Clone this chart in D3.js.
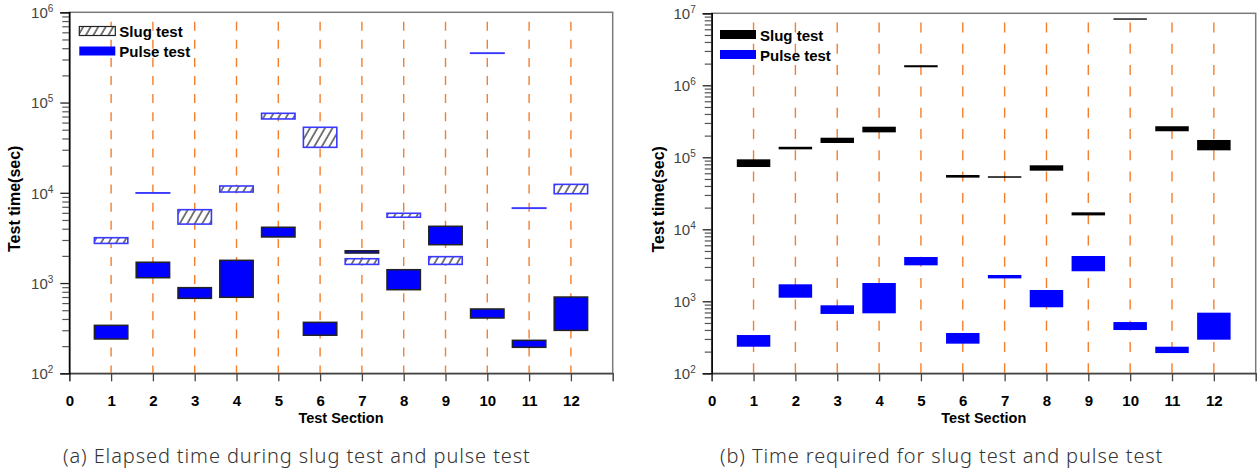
<!DOCTYPE html>
<html>
<head>
<meta charset="utf-8">
<script src="https://cdn.jsdelivr.net/npm/d3@7"></script>
<style>
  html, body { margin: 0; padding: 0; background: #fff; }
  svg { display: block; }
</style>
</head>
<body>
<svg id="chart" width="1259" height="470"></svg>
<script>
// ---------- data ----------
const sections = [1, 2, 3, 4, 5, 6, 7, 8, 9, 10, 11, 12];
const xTickValues = [0, 1, 2, 3, 4, 5, 6, 7, 8, 9, 10, 11, 12];
const yTicksA = [1e2, 1e3, 1e4, 1e5, 1e6];
const yTicksB = [1e2, 1e3, 1e4, 1e5, 1e6, 1e7];

// (a) elapsed time
const slugElapsedLow  = [2750, 10000, 4500, 10200, 65800, 31900, 1610, 5360, 1610, 354000, 6790, 9770];
const slugElapsedHigh = [3180, 10000, 6500, 11900, 76000, 53200, 1860, 5930, 1960, 354000, 6790, 12400];
const pulseElapsedLow  = [240, 1146, 677, 695, 3240, 264, 2150, 844, 2660, 410, 194, 299];
const pulseElapsedHigh = [340, 1700, 889, 1786, 4150, 367, 2280, 1406, 4255, 516, 232, 700];

// (b) time required
const slugRequiredLow  = [73300, 129000, 158000, 222000, 1780000, 52200, 52000, 65200, 15600, 8150000, 230000, 125000];
const slugRequiredHigh = [93700, 140000, 187000, 266000, 1900000, 56800, 54500, 77400, 17200, 8500000, 270000, 174000];
const pulseRequiredLow  = [234, 1122, 667, 681, 3160, 258, 2080, 826, 2612, 399, 191, 293];
const pulseRequiredHigh = [340, 1722, 880, 1795, 4120, 363, 2320, 1436, 4256, 515, 234, 695];

const legendLabels = ["Slug test", "Pulse test"];
const yTitle = "Test time(sec)";
const xTitle = "Test Section";
const captions = ["(a) Elapsed time during slug test and pulse test",
                  "(b) Time required for slug test and pulse test"];

// ---------- drawing ----------
const svg = d3.select("#chart");
const BLUE = "#0000ff";
const ORANGE = "#f47f2e";
const FONT = "'Liberation Sans', Arial, sans-serif";

const defs = svg.append("defs");
const pat = defs.append("pattern")
  .attr("id", "hatch")
  .attr("patternUnits", "userSpaceOnUse")
  .attr("width", 6.5).attr("height", 6.5)
  .attr("patternTransform", "rotate(30)");
pat.append("rect").attr("width", 6.5).attr("height", 6.5).attr("fill", "#fff");
pat.append("line").attr("x1", 1).attr("y1", 0).attr("x2", 1).attr("y2", 6.5)
  .attr("stroke", "#333").attr("stroke-width", 1.3);

function minorTicks(domain) {
  const out = [];
  for (let e = Math.log10(domain[0]); e < Math.log10(domain[1]); e++) {
    for (let m = 2; m <= 9; m++) out.push(m * Math.pow(10, e));
  }
  return out;
}

function panel(cfg) {
  const g = svg.append("g");
  const x = d3.scaleLinear().domain([0, 13]).range([cfg.left, cfg.right]);
  const y = d3.scaleLog().domain(cfg.yDomain).range([cfg.bottom, cfg.top]);

  // frame
  g.append("rect")
    .attr("x", cfg.left).attr("y", cfg.top)
    .attr("width", cfg.right - cfg.left).attr("height", cfg.bottom - cfg.top)
    .attr("fill", "none").attr("stroke", "#7a7a7a").attr("stroke-width", 1.5);

  // dashed vertical guides
  g.selectAll("line.guide").data(sections).join("line")
    .attr("class", "guide")
    .attr("x1", d => x(d)).attr("x2", d => x(d))
    .attr("y1", cfg.guideTop).attr("y2", cfg.bottom)
    .attr("stroke", ORANGE).attr("stroke-width", 1.4)
    .attr("stroke-dasharray", cfg.dash);

  // slug boxes
  const slug = sections.map((s, i) => ({ s, lo: cfg.slugLow[i], hi: cfg.slugHigh[i] }));
  g.selectAll("rect.slug").data(slug).join("rect")
    .attr("class", "slug")
    .attr("x", d => x(d.s - 0.4)).attr("width", x(0.8) - x(0))
    .attr("y", d => y(d.hi)).attr("height", d => Math.max(0.3, y(d.lo) - y(d.hi)))
    .attr("fill", cfg.slugFill).attr("stroke", cfg.slugStroke).attr("stroke-width", cfg.slugStrokeW);

  // pulse boxes
  const pulse = sections.map((s, i) => ({ s, lo: cfg.pulseLow[i], hi: cfg.pulseHigh[i] }));
  g.selectAll("rect.pulse").data(pulse).join("rect")
    .attr("class", "pulse")
    .attr("x", d => x(d.s - 0.4)).attr("width", x(0.8) - x(0))
    .attr("y", d => y(d.hi)).attr("height", d => Math.max(0.3, y(d.lo) - y(d.hi)))
    .attr("fill", BLUE).attr("stroke", cfg.pulseStroke).attr("stroke-width", cfg.pulseStrokeW);

  // x axis
  const xa = g.append("g").attr("transform", `translate(0,${cfg.bottom})`)
    .call(d3.axisBottom(x).tickValues(xTickValues).tickSize(8).tickPadding(14).tickFormat(d3.format("d")));
  xa.select(".domain").attr("stroke", "#444").attr("stroke-width", 1.5);
  xa.selectAll(".tick line").attr("stroke", "#444").attr("stroke-width", 1.3);
  xa.selectAll(".tick text").attr("font-family", FONT).attr("font-weight", "bold")
    .attr("font-size", 15).attr("fill", "#000");

  // y axis minor
  const ym = g.append("g").attr("transform", `translate(${cfg.left},0)`)
    .call(d3.axisLeft(y).tickValues(minorTicks(cfg.yDomain)).tickSize(7).tickFormat(""));
  ym.select(".domain").remove();
  ym.selectAll(".tick line").attr("stroke", "#555").attr("stroke-width", 1.2);

  // y axis major
  const ya = g.append("g").attr("transform", `translate(${cfg.left},0)`)
    .call(d3.axisLeft(y).tickValues(cfg.yTicks).tickSize(9).tickPadding(9).tickFormat(""));
  ya.select(".domain").attr("stroke", "#000").attr("stroke-width", 1.5);
  ya.selectAll(".tick line").attr("stroke", "#222").attr("stroke-width", 1.3);
  ya.selectAll(".tick").append("text")
    .attr("x", -16).attr("dy", "0.35em")
    .attr("text-anchor", "end")
    .attr("font-family", FONT).attr("font-size", 15).attr("fill", "#444")
    .each(function (d) {
      const t = d3.select(this);
      t.append("tspan").text("10");
      t.append("tspan").attr("font-size", 10).attr("dy", "-0.6em").text(Math.round(Math.log10(d)));
    });

  // axis titles
  g.append("text")
    .attr("transform", `translate(${cfg.yTitleX},${(cfg.top + cfg.bottom) / 2 + 6}) rotate(-90)`)
    .attr("text-anchor", "middle")
    .attr("font-family", FONT).attr("font-weight", "bold").attr("font-size", 16)
    .text(yTitle);
  g.append("text")
    .attr("x", (cfg.left + cfg.right) / 2).attr("y", 422.5)
    .attr("text-anchor", "middle")
    .attr("font-family", FONT).attr("font-weight", "bold").attr("font-size", 14.5)
    .text(xTitle);

  // legend
  const lg = g.append("g");
  lg.append("rect").attr("x", cfg.legX).attr("y", cfg.legY).attr("width", 36).attr("height", 9)
    .attr("fill", cfg.legSlugFill).attr("stroke", cfg.legSlugStroke).attr("stroke-width", 1.2);
  lg.append("rect").attr("x", cfg.legX).attr("y", cfg.legY + 20).attr("width", 36).attr("height", 9)
    .attr("fill", BLUE);
  lg.selectAll("text").data(legendLabels).join("text")
    .attr("x", cfg.legX + 40).attr("y", (d, i) => cfg.legY + 10.5 + i * 20)
    .attr("font-family", FONT).attr("font-weight", "bold").attr("font-size", 15)
    .text(d => d);

  // caption
  g.append("text")
    .attr("x", cfg.capX).attr("y", 463)
    .attr("font-family", "'Noto Sans', sans-serif")
    .attr("font-weight", 300).attr("font-size", 20).attr("letter-spacing", 0.9)
    .attr("fill", "#333")
    .text(cfg.caption);
}

panel({
  left: 69.3, right: 612.7, top: 12.3, bottom: 373.3,
  yDomain: [1e2, 1e6], yTicks: yTicksA,
  guideTop: 21.7, dash: "9,9.1",
  slugLow: slugElapsedLow, slugHigh: slugElapsedHigh,
  slugFill: "url(#hatch)", slugStroke: "#3a3aff", slugStrokeW: 1.6,
  pulseLow: pulseElapsedLow, pulseHigh: pulseElapsedHigh,
  pulseStroke: "#222", pulseStrokeW: 1.5,
  yTitleX: 20, legX: 79.3, legY: 26.5,
  legSlugFill: "url(#hatch)", legSlugStroke: "#222",
  capX: 63, caption: captions[0]
});

panel({
  left: 711.7, right: 1255.7, top: 13.3, bottom: 373.3,
  yDomain: [1e2, 1e7], yTicks: yTicksB,
  guideTop: 22.5, dash: "10,11.3",
  slugLow: slugRequiredLow, slugHigh: slugRequiredHigh,
  slugFill: "#000", slugStroke: "none", slugStrokeW: 0,
  pulseLow: pulseRequiredLow, pulseHigh: pulseRequiredHigh,
  pulseStroke: "none", pulseStrokeW: 0,
  yTitleX: 664, legX: 720, legY: 30,
  legSlugFill: "#000", legSlugStroke: "none",
  capX: 720, caption: captions[1]
});
</script>
</body>
</html>
